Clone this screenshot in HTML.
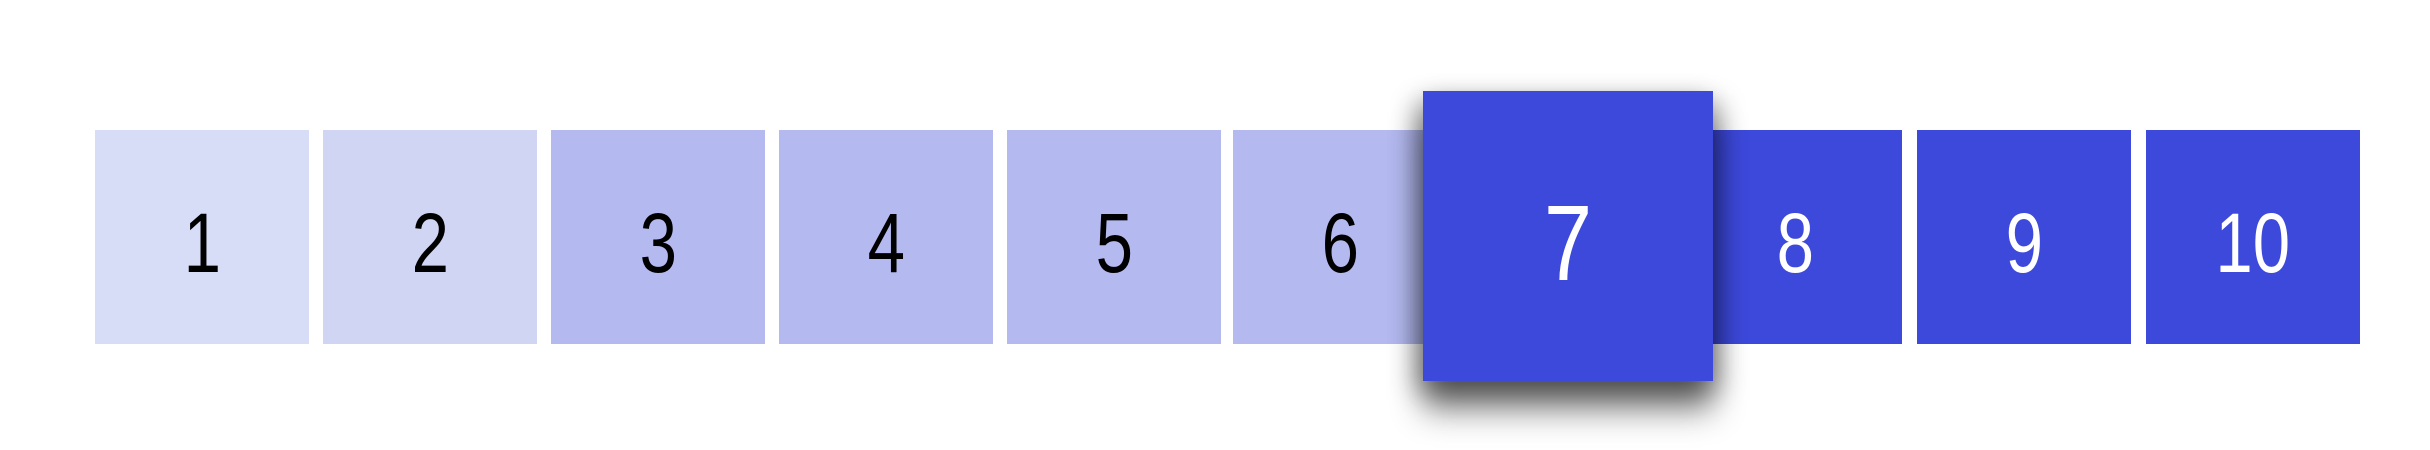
<!DOCTYPE html>
<html><head><style>
html,body{margin:0;padding:0;background:#fff;width:2430px;height:450px;overflow:hidden;position:relative}
.b{position:absolute;top:130px;width:214px;height:214px;display:flex;align-items:center;justify-content:center;font-family:"Liberation Sans",sans-serif;font-size:84px;color:#000}
.b span{display:inline-block;transform:scaleX(0.8);position:relative;top:6px}
.w{color:#fff;background:#3d49db}
.l{background:#b4baf0}
</style></head><body>
<div class="b" style="left:95px;background:#d7ddf7"><span>1</span></div>
<div class="b" style="left:323px;background:#cfd5f2"><span>2</span></div>
<div class="b l" style="left:551px"><span>3</span></div>
<div class="b l" style="left:779px"><span>4</span></div>
<div class="b l" style="left:1007px"><span>5</span></div>
<div class="b l" style="left:1233px"><span>6</span></div>
<div class="b w" style="left:1688px"><span>8</span></div>
<div class="b w" style="left:1917px"><span>9</span></div>
<div class="b w" style="left:2146px"><span>10</span></div>
<div class="b w" style="left:1423px;top:91px;width:290px;height:290px;font-size:108px;box-shadow:0 30px 30px rgba(0,0,0,0.45),-8px 10px 24px rgba(0,0,0,0.3),8px 10px 24px rgba(0,0,0,0.25)"><span>7</span></div>
</body></html>
